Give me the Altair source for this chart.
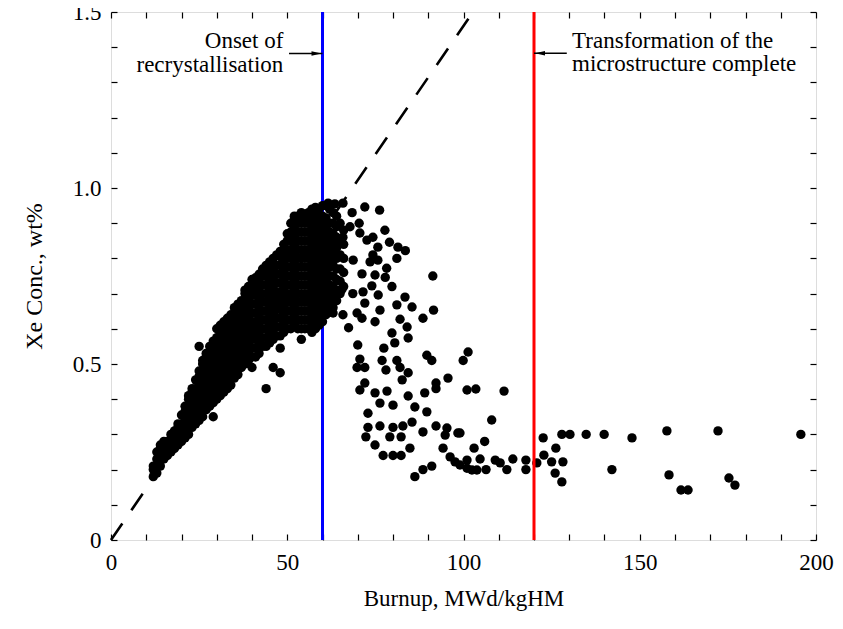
import altair as alt
import pandas as pd

# ---- data ----
# dense rising band (burnup, [Xe wt%]) up to just past onset
rise_cols = [
    (12, [0.18, 0.20, 0.21]),
    (13, [0.19, 0.21, 0.23, 0.25]),
    (14, [0.21, 0.235, 0.26, 0.27]),
    (15, [0.23, 0.255, 0.28]),
    (16, [0.24, 0.26, 0.28]),
    (17, [0.25, 0.275, 0.30]),
    (18, [0.26, 0.285, 0.31]),
    (19, [0.27, 0.295, 0.32, 0.33]),
    (20, [0.28, 0.305, 0.33, 0.355]),
    (21, [0.29, 0.315, 0.34, 0.365, 0.38]),
    (22, [0.30, 0.325, 0.35, 0.375, 0.40, 0.41]),
    (23, [0.32, 0.345, 0.37, 0.395, 0.42, 0.43]),
    (24, [0.33, 0.355, 0.38, 0.405, 0.43, 0.455]),
    (25, [0.34, 0.365, 0.39, 0.415, 0.44, 0.465, 0.48, 0.55]),
    (26, [0.35, 0.375, 0.40, 0.425, 0.45, 0.475, 0.50, 0.51]),
    (27, [0.37, 0.395, 0.42, 0.445, 0.47, 0.495, 0.52, 0.53]),
    (28, [0.38, 0.405, 0.43, 0.455, 0.48, 0.505, 0.53, 0.55]),
    (29, [0.35, 0.39, 0.415, 0.44, 0.465, 0.49, 0.515, 0.54, 0.565]),
    (30, [0.40, 0.425, 0.45, 0.475, 0.50, 0.525, 0.55, 0.575, 0.60]),
    (31, [0.41, 0.435, 0.46, 0.485, 0.51, 0.535, 0.56, 0.585, 0.61]),
    (32, [0.42, 0.445, 0.47, 0.495, 0.52, 0.545, 0.57, 0.595, 0.62]),
    (33, [0.43, 0.455, 0.48, 0.505, 0.53, 0.555, 0.58, 0.605, 0.63]),
    (34, [0.44, 0.465, 0.49, 0.515, 0.54, 0.565, 0.59, 0.615, 0.64]),
    (35, [0.46, 0.485, 0.51, 0.535, 0.56, 0.585, 0.61, 0.635, 0.66]),
    (36, [0.47, 0.495, 0.52, 0.545, 0.57, 0.595, 0.62, 0.645, 0.67]),
    (37, [0.49, 0.515, 0.54, 0.565, 0.59, 0.615, 0.64, 0.665, 0.68]),
    (38, [0.50, 0.525, 0.55, 0.575, 0.60, 0.625, 0.65, 0.675, 0.70, 0.71]),
    (39, [0.51, 0.535, 0.56, 0.585, 0.61, 0.635, 0.66, 0.685, 0.71, 0.72]),
    (40, [0.49, 0.52, 0.545, 0.57, 0.595, 0.62, 0.645, 0.67, 0.695, 0.72, 0.74]),
    (41, [0.52, 0.545, 0.57, 0.595, 0.62, 0.645, 0.67, 0.695, 0.72, 0.745]),
    (42, [0.53, 0.555, 0.58, 0.605, 0.63, 0.655, 0.68, 0.705, 0.73, 0.755]),
    (43, [0.55, 0.575, 0.60, 0.625, 0.65, 0.675, 0.70, 0.725, 0.75, 0.77]),
    (44, [0.43, 0.55, 0.575, 0.60, 0.625, 0.65, 0.675, 0.70, 0.725, 0.75, 0.78]),
    (45, [0.56, 0.585, 0.61, 0.635, 0.66, 0.685, 0.71, 0.735, 0.76, 0.79]),
    (46, [0.49, 0.57, 0.595, 0.62, 0.645, 0.67, 0.695, 0.72, 0.745, 0.77, 0.80]),
    (47, [0.58, 0.605, 0.63, 0.655, 0.68, 0.705, 0.73, 0.755, 0.78, 0.81]),
    (48, [0.475, 0.545, 0.58, 0.605, 0.63, 0.655, 0.68, 0.705, 0.73, 0.755, 0.78, 0.805, 0.82]),
    (49, [0.59, 0.615, 0.64, 0.665, 0.69, 0.715, 0.74, 0.765, 0.79, 0.815, 0.84]),
    (50, [0.60, 0.625, 0.65, 0.675, 0.70, 0.725, 0.75, 0.775, 0.80, 0.825, 0.85, 0.87]),
    (51, [0.60, 0.625, 0.65, 0.675, 0.70, 0.725, 0.75, 0.775, 0.80, 0.825, 0.85, 0.875, 0.90]),
    (52, [0.61, 0.635, 0.66, 0.685, 0.71, 0.735, 0.76, 0.785, 0.81, 0.835, 0.86, 0.885, 0.91, 0.92]),
    (53, [0.60, 0.625, 0.65, 0.675, 0.70, 0.725, 0.75, 0.775, 0.80, 0.825, 0.85, 0.875, 0.90, 0.92]),
    (54, [0.57, 0.60, 0.625, 0.65, 0.675, 0.70, 0.725, 0.75, 0.775, 0.80, 0.825, 0.85, 0.875, 0.90, 0.93]),
    (55, [0.60, 0.625, 0.65, 0.675, 0.70, 0.725, 0.75, 0.775, 0.80, 0.825, 0.85, 0.875, 0.90, 0.92]),
    (56, [0.60, 0.625, 0.65, 0.675, 0.70, 0.725, 0.75, 0.775, 0.80, 0.825, 0.85, 0.875, 0.90, 0.93]),
    (57, [0.59, 0.615, 0.64, 0.665, 0.69, 0.715, 0.74, 0.765, 0.79, 0.815, 0.84, 0.865, 0.89, 0.915, 0.94]),
    (58, [0.60, 0.625, 0.65, 0.675, 0.70, 0.725, 0.75, 0.775, 0.80, 0.825, 0.85, 0.875, 0.90, 0.925, 0.945]),
    (59, [0.61, 0.635, 0.66, 0.685, 0.71, 0.735, 0.76, 0.785, 0.81, 0.835, 0.86, 0.885, 0.91, 0.94]),
    (60, [0.62, 0.645, 0.67, 0.695, 0.72, 0.745, 0.77, 0.795, 0.82, 0.845, 0.87, 0.895, 0.92, 0.95]),
    (61, [0.64, 0.665, 0.69, 0.715, 0.74, 0.765, 0.79, 0.815, 0.84, 0.865, 0.89, 0.915, 0.95]),
    (62, [0.65, 0.675, 0.70, 0.725, 0.75, 0.775, 0.80, 0.825, 0.85, 0.875, 0.90, 0.94]),
    (63, [0.66, 0.69, 0.72, 0.75, 0.78, 0.81, 0.84, 0.87, 0.90, 0.93]),
    (64, [0.68, 0.71, 0.74, 0.77, 0.80, 0.83, 0.86, 0.89, 0.92]),
    (65, [0.70, 0.735, 0.77, 0.81, 0.85, 0.90]),
    (66, [0.72, 0.76, 0.80, 0.84, 0.88]),
]

# scattered measurements after onset of recrystallisation (burnup, Xe wt%)
scatter_pts = [
    (61.6, 0.957), (63.5, 0.955), (65.8, 0.957), (68.4, 0.93), (72.0, 0.946),
    (76.2, 0.937), (70.4, 0.90), (67.8, 0.89), (77.7, 0.88), (70.6, 0.872),
    (74.3, 0.86), (65.8, 0.86), (72.6, 0.852), (79.0, 0.846), (75.7, 0.832),
    (81.4, 0.832), (83.5, 0.822), (74.3, 0.81), (81.1, 0.80), (68.7, 0.795),
    (73.5, 0.79), (75.7, 0.795), (78.2, 0.772), (91.3, 0.75), (71.2, 0.756),
    (74.9, 0.753), (77.8, 0.746), (79.7, 0.72), (74.0, 0.722), (65.5, 0.712),
    (68.6, 0.70), (71.5, 0.705), (75.8, 0.696), (83.4, 0.69), (72.0, 0.673),
    (76.3, 0.653), (81.1, 0.668), (85.4, 0.662), (91.5, 0.653), (63.0, 0.645),
    (65.8, 0.64), (69.8, 0.645), (74.9, 0.62), (82.0, 0.627), (88.5, 0.63),
    (67.4, 0.603), (71.2, 0.63), (79.7, 0.588), (84.3, 0.574), (84.0, 0.605),
    (70.0, 0.554), (80.5, 0.56), (77.4, 0.545), (89.6, 0.525), (91.0, 0.51),
    (101.3, 0.534), (99.9, 0.51), (70.6, 0.514), (72.0, 0.49), (69.8, 0.49),
    (76.9, 0.51), (81.1, 0.51), (82.0, 0.49), (84.3, 0.475), (82.6, 0.455),
    (78.0, 0.483), (95.6, 0.46), (92.2, 0.446), (92.2, 0.43), (89.0, 0.418),
    (101.0, 0.426), (103.5, 0.429), (111.5, 0.423), (70.6, 0.426), (72.0, 0.446),
    (74.9, 0.418), (78.3, 0.423), (84.3, 0.409), (76.3, 0.389), (80.0, 0.383),
    (86.2, 0.378), (89.6, 0.364), (72.9, 0.36), (108.0, 0.341), (72.9, 0.32),
    (76.3, 0.324), (80.0, 0.32), (82.8, 0.324), (85.4, 0.335), (88.5, 0.307),
    (92.2, 0.324), (95.3, 0.318), (99.0, 0.304), (94.8, 0.298), (98.4, 0.304),
    (72.3, 0.293), (79.1, 0.293), (82.3, 0.293), (74.9, 0.27), (106.0, 0.28),
    (84.8, 0.261), (94.2, 0.261), (103.0, 0.261), (77.2, 0.24), (80.0, 0.24),
    (82.3, 0.24), (96.2, 0.236), (97.6, 0.222), (99.0, 0.213), (101.0, 0.204),
    (102.4, 0.199), (103.8, 0.199), (101.0, 0.227), (104.7, 0.23), (106.4, 0.20),
    (109.0, 0.227), (110.4, 0.219), (112.3, 0.20), (114.0, 0.23), (117.7, 0.227),
    (117.7, 0.20), (91.0, 0.21), (88.5, 0.20), (86.2, 0.18),
]

# plateau beyond complete transformation (burnup, Xe wt%)
plateau_pts = [
    (120.8, 0.219), (122.6, 0.29), (122.8, 0.241), (125.0, 0.222), (126.2, 0.261),
    (128.2, 0.222), (126.0, 0.19), (127.9, 0.165), (127.9, 0.30), (130.2, 0.30),
    (134.8, 0.30), (139.9, 0.30), (147.8, 0.29), (142.1, 0.20), (157.7, 0.31),
    (158.3, 0.185), (161.7, 0.142), (163.7, 0.142), (172.2, 0.31), (175.3, 0.176),
    (177.0, 0.156), (195.7, 0.30),
]

# dashed line (burnup, Xe wt%)
fit_burnup = [0.0, 102.7]
fit_xe = [0.0, 1.5]

onset_burnup = [60.0]
complete_burnup = [120.0]

# annotations
onset_lines = ["Onset of", "recrystallisation"]
onset_text_x = [48.9, 48.9]
onset_text_y = [1.418, 1.350]
onset_arrow = {"x": 50.5, "x2": 60.0, "y": 1.382}

complete_lines = ["Transformation of the", "microstructure complete"]
complete_text_x = [130.8, 130.8]
complete_text_y = [1.418, 1.352]
complete_arrow = {"x": 120.0, "x2": 129.3, "y": 1.383}

x_label_values = [0, 50, 100, 150, 200]
x_tick_values = list(range(0, 201, 10))
y_label_values = [0, 0.5, 1.0, 1.5]
y_tick_values = [round(i * 0.1, 1) for i in range(16)]

# ---- build tables ----
pts_rows = [(x, y) for x, ys in rise_cols for y in ys] + scatter_pts + plateau_pts
df_pts = pd.DataFrame(pts_rows, columns=["burnup", "xe"])
df_fit = pd.DataFrame({"burnup": fit_burnup, "xe": fit_xe})
df_onset = pd.DataFrame({"burnup": onset_burnup})
df_complete = pd.DataFrame({"burnup": complete_burnup})
df_onset_txt = pd.DataFrame({"burnup": onset_text_x, "xe": onset_text_y, "label": onset_lines})
df_complete_txt = pd.DataFrame({"burnup": complete_text_x, "xe": complete_text_y, "label": complete_lines})
df_arrows = pd.DataFrame([onset_arrow, complete_arrow])
df_head_onset = pd.DataFrame({"burnup": [onset_arrow["x2"]], "xe": [onset_arrow["y"]]})
df_head_complete = pd.DataFrame({"burnup": [complete_arrow["x"]], "xe": [complete_arrow["y"]]})

FONT = "Liberation Serif"
xs = alt.Scale(domain=[0, 200], nice=False, zero=False)
ys = alt.Scale(domain=[0, 1.5], nice=False, zero=False)
TICK = 6

def tick_axis(orient, values):
    return alt.Axis(orient=orient, offset=-TICK, values=values, labels=False, ticks=True,
                    tickSize=TICK, tickWidth=1.2, tickColor="black", domain=False,
                    grid=False, title="")

onset_rule = alt.Chart(df_onset).mark_rule(color="#0000ff", strokeWidth=3).encode(
    x=alt.X("burnup:Q", scale=xs, axis=None)
)

fit_line = alt.Chart(df_fit).mark_line(color="black", strokeWidth=2.6, strokeDash=[20, 16]).encode(
    x=alt.X("burnup:Q", scale=xs, axis=tick_axis("bottom", x_tick_values)),
    y=alt.Y("xe:Q", scale=ys, axis=tick_axis("left", y_tick_values)),
)

points = alt.Chart(df_pts).mark_circle(size=88, color="black", opacity=1).encode(
    x=alt.X("burnup:Q", scale=xs, axis=alt.Axis(
        orient="bottom", values=x_label_values, ticks=False, tickSize=0, domain=False, grid=False,
        title="Burnup, MWd/kgHM", labelFont=FONT, labelFontSize=23, labelColor="black",
        labelPadding=11, labelFlush=False, labelOverlap=False,
        titleFont=FONT, titleFontSize=23, titleFontWeight="normal", titleColor="black",
        titlePadding=13)),
    y=alt.Y("xe:Q", scale=ys, axis=alt.Axis(
        orient="left", values=y_label_values, ticks=False, tickSize=0, domain=False, grid=False,
        labelExpr="datum.value == 0 ? '0' : format(datum.value, '.1f')",
        title="Xe Conc., wt%", labelFont=FONT, labelFontSize=23, labelColor="black",
        labelPadding=10, labelFlush=False, labelOverlap=False,
        titleFont=FONT, titleFontSize=24, titleFontWeight="normal", titleColor="black",
        titlePadding=26)),
)

complete_rule = alt.Chart(df_complete).mark_rule(color="#ff0000", strokeWidth=3).encode(
    x=alt.X("burnup:Q", scale=xs, axis=None)
)

arrows = alt.Chart(df_arrows).mark_rule(color="black", strokeWidth=1.5).encode(
    x=alt.X("x:Q", scale=xs, axis=None),
    x2="x2:Q",
    y=alt.Y("y:Q", scale=ys, axis=None),
)

head_onset = alt.Chart(df_head_onset).mark_point(
    shape="M-1,-0.45L1,0L-1,0.45Z", size=100, filled=True, color="black", opacity=1, xOffset=-6
).encode(
    x=alt.X("burnup:Q", scale=xs, axis=None),
    y=alt.Y("xe:Q", scale=ys, axis=None),
)

head_complete = alt.Chart(df_head_complete).mark_point(
    shape="M1,-0.45L-1,0L1,0.45Z", size=100, filled=True, color="black", opacity=1, xOffset=6
).encode(
    x=alt.X("burnup:Q", scale=xs, axis=None),
    y=alt.Y("xe:Q", scale=ys, axis=None),
)

onset_txt = alt.Chart(df_onset_txt).mark_text(
    align="right", baseline="middle", font=FONT, fontSize=23, color="black"
).encode(
    x=alt.X("burnup:Q", scale=xs, axis=tick_axis("top", x_tick_values)),
    y=alt.Y("xe:Q", scale=ys, axis=None),
    text="label:N",
)

complete_txt = alt.Chart(df_complete_txt).mark_text(
    align="left", baseline="middle", font=FONT, fontSize=23, color="black"
).encode(
    x=alt.X("burnup:Q", scale=xs, axis=None),
    y=alt.Y("xe:Q", scale=ys, axis=tick_axis("right", y_tick_values)),
    text="label:N",
)

chart = alt.layer(
    onset_rule, fit_line, points, complete_rule, arrows, head_onset, head_complete,
    onset_txt, complete_txt
).resolve_axis(
    x="independent", y="independent"
).properties(
    width=705, height=528,
    autosize=alt.AutoSizeParams(type="none"),
    padding={"left": 103, "top": 4, "right": 19, "bottom": 80},
).configure_view(
    stroke="black", strokeWidth=2
).configure(background="white")

chart.save("out.html", embed_options={"renderer": "svg", "actions": False})
